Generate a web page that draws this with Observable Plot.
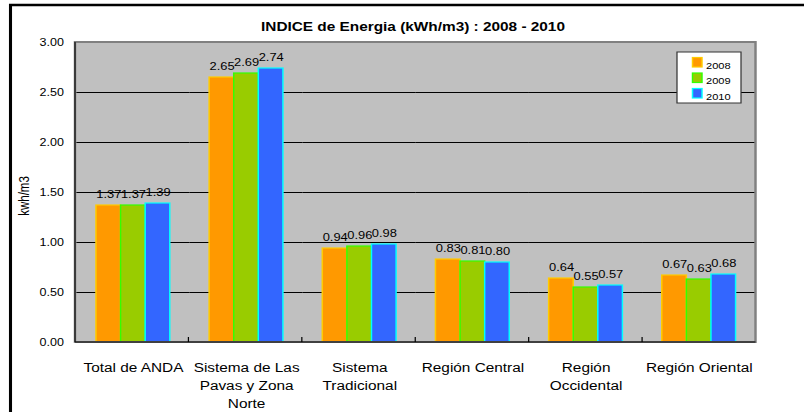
<!DOCTYPE html>
<html>
<head>
<meta charset="utf-8">
<script src="https://cdn.jsdelivr.net/npm/d3@7"></script>
<script src="https://cdn.jsdelivr.net/npm/@observablehq/plot@0.6"></script>
<style>
  html, body { margin: 0; padding: 0; background: #fff; overflow: hidden; }
  #chart { width: 804px; height: 412px; overflow: hidden; }
  #chart svg { display: block; }
</style>
</head>
<body>
<div id="chart"></div>
<script>
const title = "INDICE de Energia (kWh/m3) : 2008 - 2010";
const yLabel = "kwh/m3";
const categories = ["Total de ANDA", "Sistema de Las Pavas y Zona Norte", "Sistema Tradicional", "Región Central", "Región Occidental", "Región Oriental"];
const categoryLabels = ["Total de ANDA", "Sistema de Las\nPavas y Zona\nNorte", "Sistema\nTradicional", "Región Central", "Región\nOccidental", "Región Oriental"];
const years = ["2008", "2009", "2010"];
const v2008 = [1.37, 2.65, 0.94, 0.83, 0.64, 0.67];
const v2009 = [1.37, 2.69, 0.96, 0.81, 0.55, 0.63];
const v2010 = [1.39, 2.74, 0.98, 0.80, 0.57, 0.68];
const yTicks = [0, 0.5, 1, 1.5, 2, 2.5, 3];
const fills = ["#FF9900", "#99CC00", "#3366FF"];
const strokes = ["#FFCC00", "#33FF00", "#00FFFF"];

const series = [v2008, v2009, v2010];
const data = [];
categories.forEach((c, i) => years.forEach((y, j) => data.push({cat: c, year: y, value: series[j][i], stroke: strokes[j]})));

// the original picture is horizontally stretched; draw narrower and stretch the SVG
const OUTW = 804, H = 412;
const K = 1.23;
const W = OUTW / K;
const FONT = "'Liberation Sans', Arial, sans-serif";

const chart = Plot.plot({
  width: W,
  height: H,
  marginLeft: 75 / K,
  marginRight: W - 755.5 / K,
  marginTop: 42,
  marginBottom: 70,
  style: {fontFamily: FONT, fontSize: "10.2px", background: "#fff", color: "#000"},
  fx: {domain: categories, padding: 0, axis: null, label: null},
  x: {domain: years, paddingInner: 0, paddingOuter: 0.75, axis: null},
  y: {domain: [0, 3], ticks: yTicks, tickFormat: d3.format(".2f"), tickSize: 0, tickPadding: 10.5, label: null},
  color: {domain: years, range: fills},
  marks: [
    Plot.ruleY(yTicks.filter(t => t > 0 && t < 3), {stroke: "#000", strokeWidth: 1}),
    Plot.barY(data, {fx: "cat", x: "year", y: "value", fill: "year", stroke: "stroke", strokeWidth: 1.2}),
    Plot.text(data, {fx: "cat", x: "year", y: "value", text: d => d3.format(".2f")(d.value), dy: -11, fontSize: 10.5, fill: "#000"}),
    Plot.text(categories, {fx: d => d, text: (d, i) => categoryLabels[i], frameAnchor: "bottom", lineAnchor: "top", dy: 17, fontSize: 12.5, lineHeight: 1.43, fill: "#000"})
  ]
});

const svg = d3.select(chart);
const fx = chart.scale("fx");
const x0 = 75 / K, x1 = 755.5 / K;
const yTop = 42, yBot = H - 70;

// plot area background (behind everything)
svg.insert("rect", "g").attr("x", x0).attr("y", yTop).attr("width", x1 - x0).attr("height", yBot - yTop)
  .attr("fill", "#C0C0C0");

// plot area border and axis lines
svg.append("rect").attr("x", x0).attr("y", yTop).attr("width", x1 - x0).attr("height", yBot - yTop)
  .attr("fill", "none").attr("stroke", "#808080").attr("stroke-width", 2);
svg.append("line").attr("x1", x0).attr("x2", x0).attr("y1", yTop).attr("y2", yBot).attr("stroke", "#222").attr("stroke-width", 1.2);
svg.append("line").attr("x1", x0).attr("x2", x1).attr("y1", yBot).attr("y2", yBot).attr("stroke", "#000").attr("stroke-width", 1.2);

// category separator ticks
const fr = fx.range || [x0, x1];
const step = (fr[1] - fr[0]) / categories.length;
for (let i = 1; i < categories.length; i++) {
  const xx = fr[0] + i * step;
  svg.append("line").attr("x1", xx).attr("x2", xx).attr("y1", yBot).attr("y2", yBot - 5).attr("stroke", "#000").attr("stroke-width", 1);
}

// title
svg.append("text").text(title).attr("x", 413 / K).attr("y", 30.7).attr("text-anchor", "middle")
  .attr("font-family", FONT).attr("font-weight", "bold").attr("font-size", 12.5).attr("fill", "#000");

// y label
svg.append("text").text(yLabel).attr("transform", `translate(${28.5 / K},196) rotate(-90)`).attr("text-anchor", "middle")
  .attr("font-family", FONT).attr("font-size", 11.5).attr("fill", "#000");

// legend
const color = chart.scale("color");
const lg = svg.append("g").attr("text-anchor", "start");
lg.append("rect").attr("x", 677 / K).attr("y", 52).attr("width", 64 / K).attr("height", 51)
  .attr("fill", "#fff").attr("stroke", "#333").attr("stroke-width", 1);
color.domain.forEach((d, i) => {
  lg.append("rect").attr("x", 692.5 / K).attr("y", 57.5 + i * 15.5).attr("width", 9.5 / K).attr("height", 9.5)
    .attr("fill", color.range[i]).attr("stroke", strokes[i]).attr("stroke-width", 1.2);
  lg.append("text").text(d).attr("x", 706 / K).attr("y", 69 + i * 15.5).attr("text-anchor", "start")
    .attr("font-family", FONT).attr("font-size", 9).attr("fill", "#000");
});

// outer frame (partially visible)
svg.append("path").attr("d", `M${10.5 / K},${H + 5} V5 H${W + 5}`).attr("fill", "none").attr("stroke", "#000").attr("stroke-width", 2.5);

chart.setAttribute("viewBox", `0 0 ${W} ${H}`);
chart.setAttribute("width", OUTW);
chart.setAttribute("height", H);
chart.setAttribute("preserveAspectRatio", "none");
chart.style.width = OUTW + "px";
chart.style.height = H + "px";
chart.style.maxWidth = "none";
document.getElementById("chart").appendChild(chart);
</script>
</body>
</html>
